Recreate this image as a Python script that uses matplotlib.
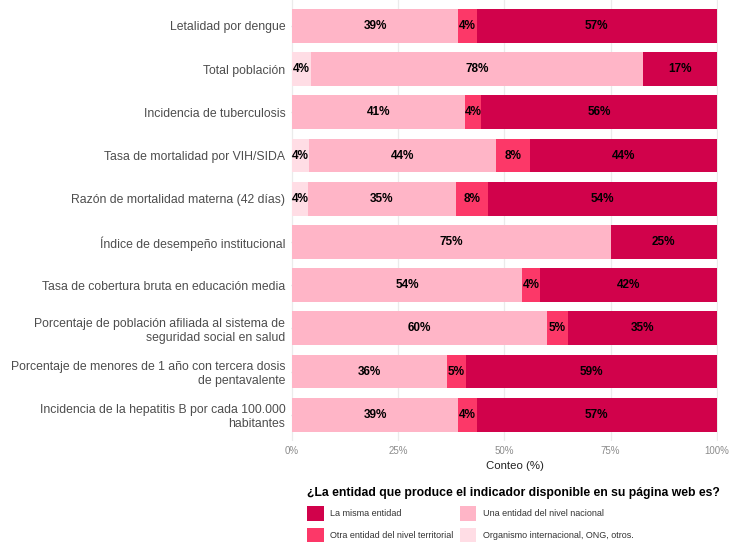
import numpy as np
import matplotlib.pyplot as plt

plt.rcParams['font.family'] = ['Liberation Sans', 'DejaVu Sans']

# Categories (top to bottom as shown)
indicadores = [
    'Letalidad por dengue',
    'Total población',
    'Incidencia de tuberculosis',
    'Tasa de mortalidad por VIH/SIDA',
    'Razón de mortalidad materna (42 días)',
    'Índice de desempeño institucional',
    'Tasa de cobertura bruta en educación media',
    'Porcentaje de población afiliada al sistema de\nseguridad social en salud',
    'Porcentaje de menores de 1 año con tercera dosis\nde pentavalente',
    'Incidencia de la hepatitis B por cada 100.000\nhabitantes',
]

# Shares (%) per response, stacked left to right
internacional = [0.0, 4.35, 0.0, 4.0, 3.85, 0.0, 0.0, 0.0, 0.0, 0.0]
nacional      = [39.13, 78.26, 40.74, 44.0, 34.62, 75.0, 54.17, 60.0, 36.36, 39.13]
territorial   = [4.35, 0.0, 3.70, 8.0, 7.69, 0.0, 4.17, 5.0, 4.55, 4.35]
misma         = [56.52, 17.39, 55.56, 44.0, 53.85, 25.0, 41.67, 35.0, 59.09, 56.52]

series = [
    ('Organismo internacional, ONG, otros.', internacional, '#FFDDE5'),
    ('Una entidad del nivel nacional', nacional, '#FFB5C7'),
    ('Otra entidad del nivel territorial', territorial, '#FC3868'),
    ('La misma entidad', misma, '#D1024B'),
]

fig = plt.figure(figsize=(7.29, 5.42), dpi=100)
ax = fig.add_axes([0.399, 0.187, 0.586, 0.813])

y = np.arange(len(indicadores))
left = np.zeros(len(indicadores))
handles = {}
for name, vals, col in series:
    vals = np.array(vals)
    bars = ax.barh(y, vals, left=left, height=0.78, color=col, label=name, zorder=2)
    handles[name] = bars
    for yi, l, v in zip(y, left, vals):
        if v > 0:
            ax.text(l + v / 2, yi, f'{v:.0f}%', ha='center', va='center',
                    fontsize=8.5, fontweight='bold', color='black', zorder=3)
    left += vals

ax.set_ylim(len(indicadores) - 0.4, -0.6)
ax.set_xlim(-0.3, 100.3)
ax.set_yticks(y)
ax.set_yticklabels(indicadores, fontsize=8.8, color='#4D4D4D')
ax.set_xticks([0, 25, 50, 75, 100])
ax.set_xticklabels(['0%', '25%', '50%', '75%', '100%'], fontsize=7, color='#8C8C8C')
ax.tick_params(length=0, pad=4)
ax.grid(True, color='#EBEBEB', linewidth=0.9, zorder=0)
ax.set_axisbelow(True)
for s in ax.spines.values():
    s.set_visible(False)
ax.set_xlabel('Conteo (%)', fontsize=8.2, color='#222222')
ax.xaxis.set_label_coords(0.525, -0.047)

order = ['La misma entidad', 'Otra entidad del nivel territorial',
         'Una entidad del nivel nacional', 'Organismo internacional, ONG, otros.']
leg = fig.legend([handles[k] for k in order], order, ncol=2,
                 loc='upper left', bbox_to_anchor=(0.4215, 0.101),
                 frameon=False, fontsize=6.5, handlelength=1.8, handleheight=2.3,
                 columnspacing=0.7, handletextpad=0.75, labelspacing=0.7,
                 title='¿La entidad que produce el indicador disponible en su página web es?',
                 title_fontproperties={'weight': 'bold', 'size': 8.8},
                 alignment='left', borderpad=0, borderaxespad=0)
for t in leg.get_texts():
    t.set_color('#333333')

fig.savefig('out.png', dpi=100)
